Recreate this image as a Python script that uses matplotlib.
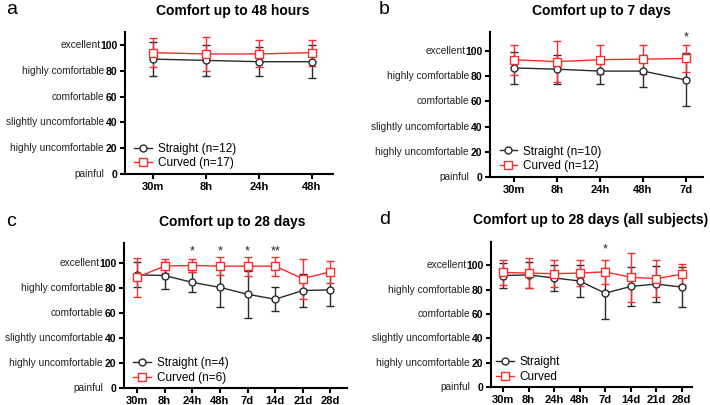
import matplotlib.pyplot as plt
import numpy as np

plt.rcParams['font.family'] = ['Liberation Sans', 'DejaVu Sans']

# comfort scale
scale_vals = [0, 20, 40, 60, 80, 100]
scale_names = ['painful', 'highly uncomfortable', 'slightly uncomfortable',
               'comfortable', 'highly comfortable', 'excellent']

# a - up to 48 hours
times_a = ['30m', '8h', '24h', '48h']
straight_a = [89, 88, 87, 87]
straight_a_sd = [13, 12, 11, 13]
curved_a = [94, 93, 93, 94]
curved_a_sd = [11, 13.5, 10.5, 10]

# b - up to 7 days
times_b = ['30m', '8h', '24h', '48h', '7d']
straight_b = [86.5, 85.5, 84, 84, 77]
straight_b_sd = [13, 11.5, 10, 13, 21]
curved_b = [93, 91.5, 93, 93.5, 94]
curved_b_sd = [12, 16, 11.5, 11.5, 10.5]

# c - up to 28 days
times_c = ['30m', '8h', '24h', '48h', '7d', '14d', '21d', '28d']
straight_c = [90.5, 90, 84.5, 80.5, 75, 71, 78, 78.5]
straight_c_sd = [10, 10.5, 8, 16, 19, 9.5, 13.5, 12.5]
curved_c = [88.5, 97.5, 98, 97.5, 97.5, 97.5, 87.5, 93]
curved_c_sd = [15.5, 5.5, 5, 7, 7.5, 7.5, 16, 9]

# d - up to 28 days, all subjects
times_d = times_c
straight_d = [91.5, 92, 89.5, 87, 77, 82.5, 84.5, 82]
straight_d_sd = [10.5, 10.5, 10.5, 13, 21, 16, 15, 16.5]
curved_d = [94, 93.5, 93, 93.5, 94.5, 90, 89, 92.5]
curved_d_sd = [10, 12, 11, 10.5, 10, 20, 15, 8.5]

W, H = 710, 405
fig = plt.figure(figsize=(7.1, 4.05), dpi=100)

BLACK = '#2a2a2a'
RED = '#ff2a2a'


def rect(l, t, r, b):
    return [l / W, 1 - b / H, (r - l) / W, (b - t) / H]


def panel(box, times, s, s_sd, c, c_sd, ymax, xlim, labels, stars, leg_xy):
    ax = fig.add_axes(rect(*box))
    x = np.arange(len(times))
    ax.errorbar(x, s, yerr=s_sd, fmt='none', ecolor=BLACK, elinewidth=1,
                capsize=3, capthick=1, zorder=2)
    ax.errorbar(x, c, yerr=c_sd, fmt='none', ecolor=RED, elinewidth=1,
                capsize=3, capthick=1, zorder=2)
    l1, = ax.plot(x, s, '-o', color=BLACK, mfc='white', mec=BLACK, ms=5,
                  lw=1, mew=1, zorder=3, label=labels[0])
    l2, = ax.plot(x, c, '-s', color=RED, mfc='white', mec=RED, ms=5.5,
                  lw=1, mew=1, zorder=3, label=labels[1])
    for i, txt, yy in stars:
        ax.text(i, yy, txt, ha='center', va='center', fontsize=9, color='#222')

    ax.set_xlim(*xlim)
    ax.set_ylim(0, ymax)
    ax.set_xticks(x)
    ax.set_xticklabels(times, fontweight='bold', fontsize=8)
    ax.set_yticks(scale_vals)
    ax.set_yticklabels([str(v) for v in scale_vals], fontweight='bold', fontsize=7.5)
    for v, name in zip(scale_vals, scale_names):
        off = -24 if v == 100 else -21
        ax.annotate(name, xy=(0, v), xycoords=('axes fraction', 'data'),
                    xytext=(off * 0.72, 0), textcoords='offset points',
                    ha='right', va='center', fontsize=7.3, color='#222')
    for sp in ['top', 'right']:
        ax.spines[sp].set_visible(False)
    for sp in ['left', 'bottom']:
        ax.spines[sp].set_linewidth(1.5)
    ax.tick_params(width=1.5, length=3.5, pad=2, color='black')
    ax.legend(handles=[l1, l2], loc='lower left', bbox_to_anchor=leg_xy,
              frameon=False, fontsize=8.5, handlelength=1.5, handletextpad=0.5,
              labelspacing=0.2, borderpad=0, borderaxespad=0)
    return ax


panel((125, 32, 333, 174), times_a, straight_a, straight_a_sd, curved_a, curved_a_sd,
      110, (-0.53, 3.4), ['Straight (n=12)', 'Curved (n=17)'], [], (0.045, 0.035))
panel((490, 32, 703, 177), times_b, straight_b, straight_b_sd, curved_b, curved_b_sd,
      115, (-0.56, 4.4), ['Straight (n=10)', 'Curved (n=12)'], [(4, '*', 111)], (0.045, 0.035))
panel((124, 243, 347, 388), times_c, straight_c, straight_c_sd, curved_c, curved_c_sd,
      116, (-0.47, 7.6), ['Straight (n=4)', 'Curved (n=6)'],
      [(2, '*', 109.5), (3, '*', 109.5), (4, '*', 109.5), (5, '**', 109.5)], (0.04, 0.03))
panel((491, 242, 692, 387), times_d, straight_d, straight_d_sd, curved_d, curved_d_sd,
      119, (-0.47, 7.4), ['Straight', 'Curved'], [(4, '*', 113)], (0.025, 0.03))

# titles and panel letters
titles = ['Comfort up to 48 hours', 'Comfort up to 7 days',
          'Comfort up to 28 days', 'Comfort up to 28 days (all subjects)']
title_xy = [(233, 11), (601, 11), (232, 222), (591, 220)]
letters = ['a', 'b', 'c', 'd']
letter_xy = [(6, 10), (379, 10), (6, 222), (379, 220)]
for t, (tx, ty) in zip(titles, title_xy):
    fig.text(tx / W, 1 - ty / H, t, ha='center', va='center', fontsize=10,
             fontweight='bold')
for lt, (lx, ly) in zip(letters, letter_xy):
    fig.text(lx / W, 1 - ly / H, lt, ha='left', va='center', fontsize=14)

fig.savefig('out.png', dpi=100)
